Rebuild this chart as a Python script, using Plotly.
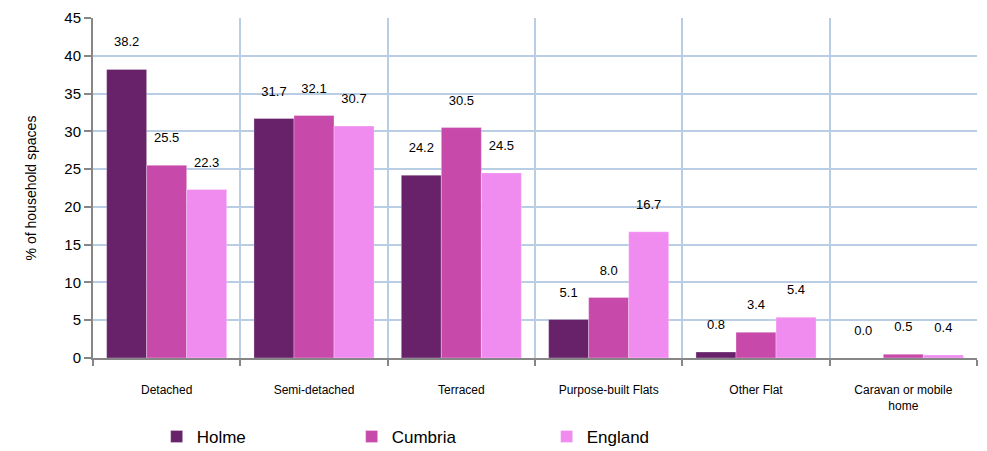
import plotly.graph_objects as go

categories = ["Detached", "Semi-detached", "Terraced", "Purpose-built Flats", "Other Flat", "Caravan or mobile<br>home"]
holme = [38.2, 31.7, 24.2, 5.1, 0.8, 0.0]
cumbria = [25.5, 32.1, 30.5, 8.0, 3.4, 0.5]
england = [22.3, 30.7, 24.5, 16.7, 5.4, 0.4]
series_names = ["Holme", "Cumbria", "England"]
series_values = [holme, cumbria, england]
colors = ["#68226a", "#c74aab", "#f08bf0"]
y_ticks = [0, 5, 10, 15, 20, 25, 30, 35, 40, 45]

fig = go.Figure()
for name, vals, col in zip(series_names, series_values, colors):
    fig.add_trace(go.Bar(
        name=name, x=categories, y=vals,
        marker=dict(color=col, line=dict(color="rgba(255,255,255,0.6)", width=0.5)),
        text=[f"{v:.1f}<br> " for v in vals],
        textposition="outside", cliponaxis=False,
        textfont=dict(size=13, color="#000000", family="Liberation Sans"),
    ))

# page body has an 8px default margin, so the figure is sized to fit within the window
fig.update_layout(
    width=979, height=443,
    margin=dict(l=85, r=10, t=10, b=93, autoexpand=False),
    paper_bgcolor="white", plot_bgcolor="white",
    font=dict(family="Liberation Sans", color="#000000"),
    barmode="group", bargap=0.185, bargroupgap=0,
    showlegend=True,
    legend=dict(orientation="h", x=0.072, xanchor="left", y=-0.232, yanchor="middle",
                font=dict(size=17), entrywidth=150, itemwidth=30,
                bgcolor="rgba(0,0,0,0)"),
)
fig.update_xaxes(
    type="category", tickson="boundaries", showgrid=True, gridcolor="#b9cde5", gridwidth=1.5,
    showline=True, linecolor="#868686", linewidth=2, ticks="outside", ticklen=6,
    tickcolor="#868686", tickwidth=1.5, tickfont=dict(size=12), ticklabelstandoff=20,
    automargin=False,
)
fig.update_yaxes(
    range=[0, 45], tickvals=y_ticks, showgrid=True, gridcolor="#b9cde5", gridwidth=1.5,
    showline=True, linecolor="#868686", linewidth=2, ticks="outside", ticklen=7,
    tickcolor="#868686", tickwidth=1.5, tickfont=dict(size=15), zeroline=False,
    ticklabeloverflow="allow",
    title=dict(text="% of household spaces", font=dict(size=14), standoff=24),
    automargin=False,
)
fig.write_html("out.html")
